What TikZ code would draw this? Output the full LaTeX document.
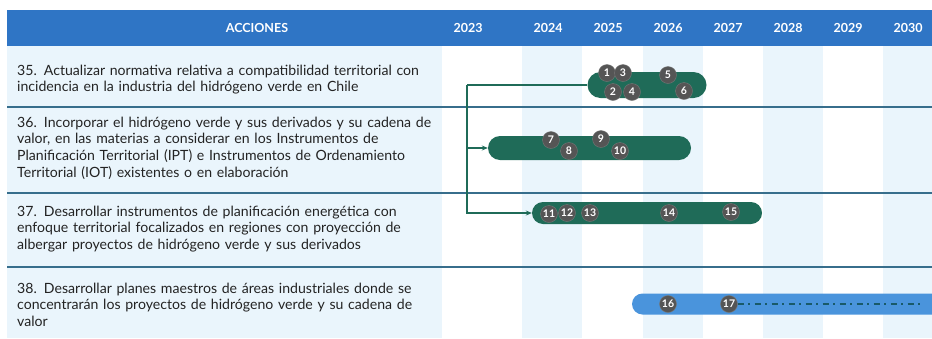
\documentclass[tikz,border=0pt]{standalone}
\usepackage{fontspec}
\setsansfont{Lato}
\usepackage{tikz}
\usetikzlibrary{arrows.meta,shapes.misc}
\usepackage{xcolor}
\definecolor{hdrblue}{RGB}{47,117,197}
\definecolor{paleblue}{RGB}{234,245,252}
\definecolor{rule}{RGB}{55,110,140}
\definecolor{ink}{RGB}{35,35,35}
\definecolor{gantt}{RGB}{31,107,88}
\definecolor{ganttblue}{RGB}{74,148,220}
\definecolor{hitogray}{RGB}{85,85,85}
\definecolor{dashteal}{RGB}{25,90,105}

\begin{document}
\begin{tikzpicture}[
  x=1pt, y=-1pt,
  every node/.style={font=\sffamily},
  act/.style={anchor=base west, inner sep=0, text width=430pt, align=left, text=ink, font=\sffamily\fontsize{14.1}{16.8}\selectfont},
  year/.style={text=white, font=\sffamily\bfseries\fontsize{12.5}{14}\selectfont},
  bar/.style={rounded rectangle, inner sep=0, fill=gantt},
  hito/.style={circle, fill=hitogray, draw=hitogray!80!white, line width=0.4pt, text=white, minimum size=17pt, inner sep=0, font=\sffamily\bfseries\fontsize{10.5}{10.5}\selectfont},
  arr/.style={-{Stealth[length=6pt,width=5pt]}, gantt, line width=1.5pt},
  link/.style={gantt, line width=1.5pt},
]
\useasboundingbox (0,0) rectangle (932,338);
% backgrounds
\fill[paleblue] (7,46) rectangle (442,338);
\foreach \x in {522,643,763,883}
  \fill[paleblue] (\x,46) rectangle ({min(\x+60,932)},338);
\fill[hdrblue] (7,10) rectangle (932,46);
\foreach \y in {107,193,267}
  \draw[rule, line width=1.5pt] (7,\y) -- (932,\y);

% header
\node[year] (hdr) at (257,28) {ACCIONES};
\foreach \yr/\x in {2023/468,2024/548,2025/608,2026/668,2027/728,2028/788,2029/848,2030/908}
  \node[year] (y\yr) at (\x,28) {\yr};

% acciones
\node[act] (a35) at (17,75) {35. Actualizar normativa relativa a compatibilidad territorial con\\incidencia en la industria del hidrógeno verde en Chile};
\node[act] (a36) at (17,127) {36. Incorporar el hidrógeno verde y sus derivados y su cadena de\\valor, en las materias a considerar en los Instrumentos de\\Planificación Territorial (IPT) e Instrumentos de Ordenamiento\\Territorial (IOT) existentes o en elaboración};
\node[act] (a37) at (17,216) {37. Desarrollar instrumentos de planificación energética con\\enfoque territorial focalizados en regiones con proyección de\\albergar proyectos de hidrógeno verde y sus derivados};
\node[act] (a38) at (17,293) {38. Desarrollar planes maestros de áreas industriales donde se\\concentrarán los proyectos de hidrógeno verde y su cadena de\\valor};

% barras
\node[bar, minimum width=119pt, minimum height=26pt] (bar35) at (647,85) {};
\node[bar, minimum width=203pt, minimum height=24pt] (bar36) at (589.5,148) {};
\node[bar, minimum width=230pt, minimum height=22pt] (bar37) at (647,213) {};
\node[bar, fill=ganttblue, rounded rectangle right arc=none, minimum width=300pt, minimum height=21pt] (bar38) at (782,304) {};

% conectores
\coordinate (trunk) at (467,85);
\draw[link] (bar35.west) -- (trunk);
\draw[arr] (trunk) |- (bar36.west);
\draw[arr] (trunk) |- (bar37.west);

% hitos
\foreach \n/\x/\y in {1/607/73,2/613/92,3/623/73,4/632/92,5/668/75,6/684/91,
  7/551/140,8/569/151,9/601/139,10/620/151,
  11/549/214,12/567/213,13/590/213,14/669/213,15/731/212,
  16/668/304,17/729/304}
  \node[hito] (h\n) at (\x,\y) {\n};

\coordinate (ddend) at (923,304);
\draw[dashteal, line width=1.5pt, dash pattern=on 6pt off 4.5pt on 2pt off 4.5pt] (h17.east) -- (ddend);
\end{tikzpicture}
\end{document}
